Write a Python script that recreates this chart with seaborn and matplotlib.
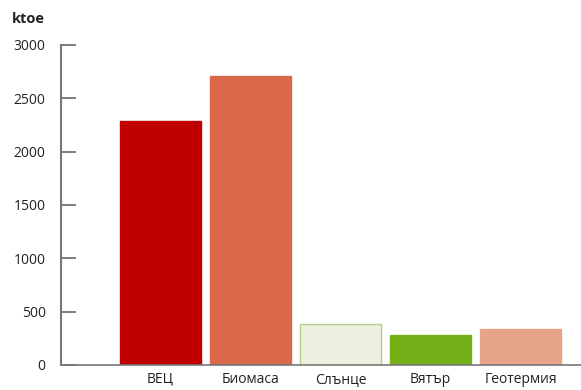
import matplotlib
matplotlib.use("Agg")
import matplotlib.pyplot as plt
import seaborn as sns
import pandas as pd

categories = ["ВЕЦ", "Биомаса", "Слънце", "Вятър", "Геотермия"]
values = [2290, 2710, 385, 280, 340]
colors = ["#C00000", "#D9694A", "#EBF1DE", "#76B018", "#E8A486"]
edges = ["#C00000", "#D9694A", "#B5CC8E", "#76B018", "#E8A486"]
yticks = [0, 500, 1000, 1500, 2000, 2500, 3000]

sns.set_theme(style="white")
plt.rcParams['font.family'] = ['Open Sans', 'DejaVu Sans']

df = pd.DataFrame({"cat": categories, "val": values})
fig = plt.figure(figsize=(5.81, 3.9), dpi=100)
ax = fig.add_axes([61/581, 1-365/390, 1-61/581, 320/390])
sns.barplot(data=df, x="cat", y="val", hue="cat", palette=colors, width=0.9,
            legend=False, ax=ax, saturation=1)
for p, ec in zip(ax.patches, edges):
    p.set_edgecolor(ec)
    p.set_linewidth(1)

ax.set_ylim(0, 3000)
ax.set_xlim(-1.1, 4.67)
ax.set_yticks(yticks)
ax.set_yticklabels([str(t) for t in yticks], fontsize=10, color="#222222")
ax.tick_params(axis="y", direction="in", length=11, width=1.2, color="#666666", pad=11, left=True)
ax.tick_params(axis="x", length=0, pad=5, labelsize=10, labelcolor="#222222")
ax.set_xlabel("")
ax.set_ylabel("")
for s in ["top", "right"]:
    ax.spines[s].set_visible(False)
ax.spines["left"].set_color("#777777")
ax.spines["left"].set_linewidth(1.5)
ax.spines["bottom"].set_color("#777777")
ax.spines["bottom"].set_linewidth(1.2)
fig.text(12/581, 1-19/390, "ktoe", fontsize=10.5, fontweight="bold", va="center", ha="left", color="#222222")
fig.savefig("out.png", dpi=100)
